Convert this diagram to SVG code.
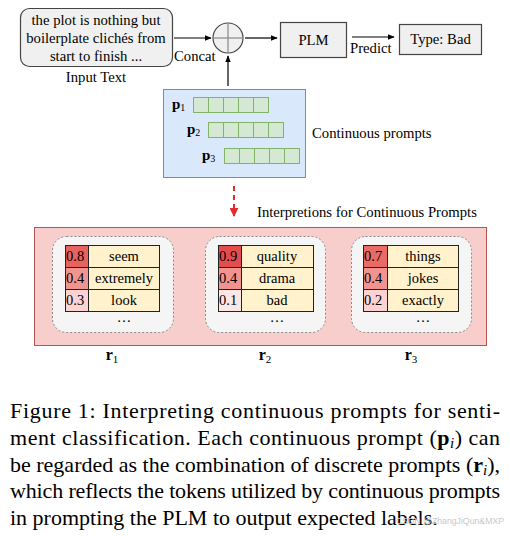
<svg xmlns="http://www.w3.org/2000/svg" width="510" height="536" viewBox="0 0 510 536" font-family="'Liberation Serif', 'Times New Roman', serif">
<defs>
<marker id="ah" viewBox="0 0 10 10" refX="9" refY="5" markerWidth="7" markerHeight="7" orient="auto" markerUnits="userSpaceOnUse"><path d="M0,1 L10,5 L0,9 Z" fill="#000"/></marker>
<marker id="ahr" viewBox="0 0 10 10" refX="9" refY="5" markerWidth="9" markerHeight="9" orient="auto" markerUnits="userSpaceOnUse"><path d="M0,0 L10,5 L0,10 Z" fill="#e32b2b"/></marker>
<style>
text{font-family:"Liberation Serif","Times New Roman",serif;fill:#000}
.t{font-size:14.7px}
.c{text-anchor:middle}
.gray{fill:#f0f0f0;stroke:#444;stroke-width:1.2}
.cell{fill:#d5e8d4;stroke:#82b366;stroke-width:1}
.inner{fill:#f5f5f5;stroke:#888;stroke-width:1;stroke-dasharray:2 2}
.w{fill:#fff2cc;stroke:#222;stroke-width:1}
.s{stroke:#222;stroke-width:1}
.tt{font-size:14.5px}
.conn{stroke:#000;stroke-width:1.2;fill:none}
.cap{font-size:22px}
</style>
</defs>

<g id="connectors">
<line class="conn" x1="174" y1="38" x2="211" y2="38" marker-end="url(#ah)"/>
<line class="conn" x1="228" y1="86" x2="228" y2="56" marker-end="url(#ah)"/>
<line class="conn" x1="245" y1="38" x2="277" y2="38" marker-end="url(#ah)"/>
<line class="conn" x1="352" y1="37" x2="394" y2="37" marker-end="url(#ah)"/>
<line x1="234" y1="186" x2="234" y2="216" stroke="#e32b2b" stroke-width="2" stroke-dasharray="5 4" marker-end="url(#ahr)"/>
<text class="t" x="174" y="61">Concat</text>
<text class="t" x="350" y="53">Predict</text>
</g>

<g id="input">
<rect class="gray" x="20.5" y="8.5" width="152" height="58" rx="9"/>
<text class="t c" x="96" y="25">the plot is nothing but</text>
<text class="t c" x="96" y="43">boilerplate clichés from</text>
<text class="t c" x="96" y="61">start to finish ...</text>
<text class="t c" x="96" y="82">Input Text</text>
</g>

<g id="concat">
<circle cx="228" cy="38" r="15" fill="#f0f0f0" stroke="#444" stroke-width="1.2"/>
<line x1="213" y1="38" x2="243" y2="38" stroke="#888" stroke-width="1.2"/>
<line x1="228" y1="23" x2="228" y2="53" stroke="#888" stroke-width="1.2"/>
</g>

<g id="plm">
<rect class="gray" x="280.5" y="22.5" width="66" height="35"/>
<text class="t c" x="313.5" y="45">PLM</text>
</g>

<g id="output">
<rect class="gray" x="399.5" y="24.5" width="82" height="30"/>
<text class="t c" x="440.5" y="44">Type: Bad</text>
</g>

<g id="prompts">
<rect x="163.5" y="89.5" width="142" height="88" fill="#dae8fc" stroke="#6c8ebf" stroke-width="1"/>
<text x="172" y="109" font-size="15" font-weight="bold">p<tspan font-size="10" font-weight="normal" dy="2">1</tspan></text>
<text x="187" y="134" font-size="15" font-weight="bold">p<tspan font-size="10" font-weight="normal" dy="2">2</tspan></text>
<text x="202" y="160" font-size="15" font-weight="bold">p<tspan font-size="10" font-weight="normal" dy="2">3</tspan></text>
<g class="cell">
<rect x="193.5" y="97.5" width="15" height="15"/><rect x="208.5" y="97.5" width="15" height="15"/><rect x="223.5" y="97.5" width="15" height="15"/><rect x="238.5" y="97.5" width="15" height="15"/><rect x="253.5" y="97.5" width="15" height="15"/>
<rect x="208.5" y="122.5" width="15" height="15"/><rect x="223.5" y="122.5" width="15" height="15"/><rect x="238.5" y="122.5" width="15" height="15"/><rect x="253.5" y="122.5" width="15" height="15"/><rect x="268.5" y="122.5" width="15" height="15"/>
<rect x="224.5" y="148.5" width="15" height="15"/><rect x="239.5" y="148.5" width="15" height="15"/><rect x="254.5" y="148.5" width="15" height="15"/><rect x="269.5" y="148.5" width="15" height="15"/><rect x="284.5" y="148.5" width="15" height="15"/>
</g>
<text class="t" x="312" y="138">Continuous prompts</text>
</g>

<g id="interpretations">
<text class="t" x="257" y="217">Interpretions for Continuous Prompts</text>
<rect x="34.5" y="227.5" width="452" height="118" fill="#f8cecc" stroke="#b85450" stroke-width="1"/>
</g>

<g id="r1">
<rect class="inner" x="52.5" y="236.5" width="121" height="96" rx="14"/>
<rect class="s" x="65.5" y="245.5" width="23" height="22" fill="#e8625e"/>
<rect class="s" x="65.5" y="267.5" width="23" height="22" fill="#f19490"/>
<rect class="s" x="65.5" y="289.5" width="23" height="22" fill="#fcd2d2"/>
<rect class="w" x="88.5" y="245.5" width="71" height="22"/>
<rect class="w" x="88.5" y="267.5" width="71" height="22"/>
<rect class="w" x="88.5" y="289.5" width="71" height="22"/>
<g class="tt"><text class="tt" x="66" y="261">0.8</text><text class="tt" x="66" y="283">0.4</text><text class="tt" x="66" y="305">0.3</text>
<text class="tt c" x="124" y="261">seem</text><text class="tt c" x="124" y="283">extremely</text><text class="tt c" x="124" y="305">look</text>
<text class="tt c" x="124" y="322">…</text></g>
<text class="c" x="112" y="360" font-size="16" font-weight="bold">r<tspan font-size="11" font-weight="normal" dy="3">1</tspan></text>
</g>

<g id="r2">
<rect class="inner" x="205.5" y="236.5" width="120" height="96" rx="14"/>
<rect class="s" x="218.5" y="245.5" width="23" height="22" fill="#e34d4d"/>
<rect class="s" x="218.5" y="267.5" width="23" height="22" fill="#f19490"/>
<rect class="s" x="218.5" y="289.5" width="23" height="22" fill="#fde6e6"/>
<rect class="w" x="241.5" y="245.5" width="72" height="22"/>
<rect class="w" x="241.5" y="267.5" width="72" height="22"/>
<rect class="w" x="241.5" y="289.5" width="72" height="22"/>
<g class="tt"><text class="tt" x="219" y="261">0.9</text><text class="tt" x="219" y="283">0.4</text><text class="tt" x="219" y="305">0.1</text>
<text class="tt c" x="277" y="261">quality</text><text class="tt c" x="277" y="283">drama</text><text class="tt c" x="277" y="305">bad</text>
<text class="tt c" x="277" y="322">…</text></g>
<text class="c" x="265" y="360" font-size="16" font-weight="bold">r<tspan font-size="11" font-weight="normal" dy="3">2</tspan></text>
</g>

<g id="r3">
<rect class="inner" x="351.5" y="236.5" width="120" height="96" rx="14"/>
<rect class="s" x="363.5" y="245.5" width="24" height="22" fill="#ea6b66"/>
<rect class="s" x="363.5" y="267.5" width="24" height="22" fill="#f19490"/>
<rect class="s" x="363.5" y="289.5" width="24" height="22" fill="#fcd2d2"/>
<rect class="w" x="387.5" y="245.5" width="71" height="22"/>
<rect class="w" x="387.5" y="267.5" width="71" height="22"/>
<rect class="w" x="387.5" y="289.5" width="71" height="22"/>
<g class="tt"><text class="tt" x="364" y="261">0.7</text><text class="tt" x="364" y="283">0.4</text><text class="tt" x="364" y="305">0.2</text>
<text class="tt c" x="423" y="261">things</text><text class="tt c" x="423" y="283">jokes</text><text class="tt c" x="423" y="305">exactly</text>
<text class="tt c" x="423" y="322">…</text></g>
<text class="c" x="411" y="360" font-size="16" font-weight="bold">r<tspan font-size="11" font-weight="normal" dy="3">3</tspan></text>
</g>

<g id="caption">
<text class="cap" x="10" y="418" textLength="490" lengthAdjust="spacing">Figure 1:  Interpreting continuous prompts for senti-</text>
<text class="cap" x="10" y="445" textLength="490" lengthAdjust="spacing">ment classification. Each continuous prompt (<tspan font-weight="bold">p</tspan><tspan font-style="italic" font-size="15" dy="3">i</tspan><tspan dy="-3">) can</tspan></text>
<text class="cap" x="10" y="472" textLength="490" lengthAdjust="spacing">be regarded as the combination of discrete prompts (<tspan font-weight="bold">r</tspan><tspan font-style="italic" font-size="15" dy="3">i</tspan><tspan dy="-3">),</tspan></text>
<text class="cap" x="10" y="498" textLength="490" lengthAdjust="spacing">which reflects the tokens utilized by continuous prompts</text>
<text class="cap" x="10" y="525">in prompting the PLM to output expected labels.</text>
<text x="396" y="524" textLength="108" lengthAdjust="spacingAndGlyphs" style="font-family:'Liberation Sans',sans-serif;fill:#c8c8c8;font-size:9px">CSDN @ZhangJiQun&amp;MXP</text>
</g>
</svg>
